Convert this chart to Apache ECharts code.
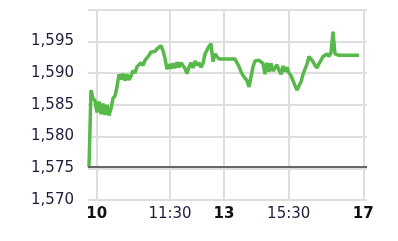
<!DOCTYPE html>
<html><head><meta charset="utf-8">
<script src="https://cdn.jsdelivr.net/npm/echarts@6/dist/echarts.min.js"></script>
<style>html,body{margin:0;padding:0;background:#fff}#c{width:398px;height:241px}</style>
</head><body><div id="c"></div>
<script>
// price samples, evenly spaced in trading sequence
const prices = [
1575.2,1587.3,1586.0,1585.6,1583.8,1585.5,1583.5,1585.2,1583.4,1585.0,
1583.3,1584.4,1586.0,1586.4,1587.8,1589.8,1589.0,1589.9,1588.8,1589.8,
1588.9,1589.5,1590.4,1590.0,1591.0,1590.8,1591.6,1591.2,1592.0,1591.8,
1592.8,1593.3,1593.6,1593.4,1593.8,1593.5,1594.3,1593.5,1592.3,1590.6,
1591.4,1590.7,1591.5,1590.8,1591.7,1590.9,1591.6,1591.9,1590.7,1589.9,
1590.9,1591.6,1590.8,1591.9,1591.2,1591.6,1590.9,1591.5,1593.0,1593.6,
1594.2,1594.6,1591.8,1593.0,1592.6,1592.2,1592.2,1592.2,1592.2,1592.2,
1592.2,1592.2,1592.2,1592.2,1592.2,1591.0,1590.2,1589.6,1589.2,1588.8,
1587.8,1589.4,1591.0,1591.9,1592.2,1592.0,1592.3,1591.5,1589.8,1591.6,
1590.2,1591.5,1590.3,1590.0,1591.3,1590.4,1589.8,1591.1,1590.2,1590.9,
1590.0,1589.6,1588.8,1588.0,1587.3,1588.0,1588.6,1589.8,1590.6,1591.4,
1592.6,1592.3,1591.8,1591.2,1590.8,1591.5,1592.0,1592.6,1592.3,1593.0,
1592.6,1593.2,1596.5,1593.0,1592.8,1592.8,1592.8,1592.8,1592.8,1592.8,
1592.8,1592.8,1592.8,1592.8,1592.8,1592.8
];
const prevClose = 1575.2;
const tickPos = [3.85, 40.5, 67.5, 99.85, 137.15];
const tickLabels = ['10', '11:30', '13', '15:30', '17'];
const tickBold = [true, false, true, false, true];
const yMin = 1570, yMax = 1600, yStep = 5;

const data = prices.map((v, i) => [i, v]);
const chart = echarts.init(document.getElementById('c'), null, {renderer: 'canvas'});
const font = 'DejaVu Sans';
chart.setOption({
  animation: false,
  grid: {left: 88, top: 9.5, width: 279, height: 190.5, containLabel: false},
  xAxis: {
    type: 'value', min: -0.5, max: 139,
    axisLine: {show: false},
    axisTick: {show: false, customValues: tickPos},
    axisLabel: {
      customValues: tickPos, margin: 7,
      fontFamily: font, fontSize: 15, color: '#1c1c3c',
      formatter: function (v) {
        let k = tickPos.findIndex(p => Math.abs(p - v) < 0.01);
        if (k < 0) return '';
        return tickBold[k] ? '{b|' + tickLabels[k] + '}' : tickLabels[k];
      },
      rich: {b: {fontFamily: font, fontSize: 15, fontWeight: 'bold', color: '#111'}}
    },
    splitLine: {show: true, lineStyle: {color: '#dedede', width: 2}}
  },
  yAxis: {
    type: 'value', min: yMin, max: yMax, interval: yStep,
    axisLine: {show: false}, axisTick: {show: false},
    axisLabel: {
      margin: 14, fontFamily: font, fontSize: 15, color: '#1c1c3c',
      formatter: v => v === yMax ? '' : v.toLocaleString('en-US')
    },
    splitLine: {lineStyle: {color: '#dedede', width: 2}}
  },
  series: [{
    type: 'line', data: data, showSymbol: false, symbol: 'none',
    lineStyle: {color: '#56b949', width: 3.5},
    markLine: {
      symbol: 'none', silent: true, label: {show: false},
      lineStyle: {color: '#666', width: 2, type: 'solid'},
      data: [{yAxis: prevClose}]
    }
  }]
});
</script></body></html>
